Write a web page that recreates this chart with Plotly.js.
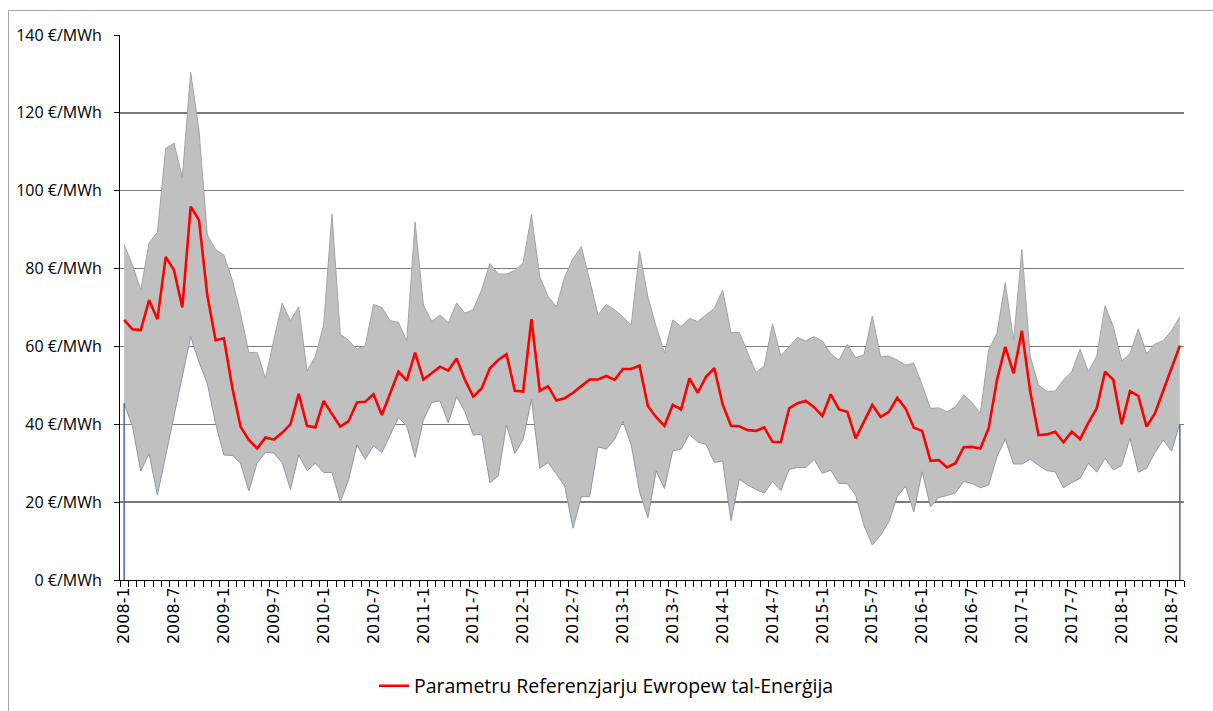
<!DOCTYPE html>
<html><head><meta charset="utf-8">
<script src="https://cdn.plot.ly/plotly-3.0.1.min.js"></script>
<style>
html,body{margin:0;padding:0;background:#fff;}
#chart{position:absolute;left:0;top:0;width:1213px;height:711px;}
#frame{position:absolute;left:8px;top:10px;width:1300px;height:800px;border-left:1px solid #a6a6a6;border-top:1px solid #a6a6a6;pointer-events:none;}
</style></head><body>
<div id="chart"></div><div id="frame"></div>
<script>
// Categories: months 2008-1 .. 2018-8
const years = [2008,2009,2010,2011,2012,2013,2014,2015,2016,2017,2018];
const months = [];
years.forEach(y => { for (let m = 1; m <= 12; m++) { if (y === 2018 && m > 8) break; months.push(y + '-' + m); } });

// Reference price (red line), €/MWh
const refPrice = [
66.8,64.4,64.2,71.9,67,83,79.6,70,95.9,92.5,73.2,61.6,
62.1,49.5,39.4,36,33.8,36.6,36.1,37.8,40,47.8,39.6,39.2,
46,42.8,39.4,40.8,45.6,45.8,47.7,42.4,48,53.5,51.2,58.4,
51.5,53.1,54.8,53.8,56.9,51.4,47.1,49.2,54.4,56.5,58,48.6,
48.4,67,48.6,49.8,46.1,46.7,48.1,49.8,51.5,51.5,52.4,51.4,
54.2,54.2,55.1,44.7,41.8,39.6,45,43.8,51.8,48.1,52.2,54.4,
45.1,39.6,39.5,38.5,38.3,39.2,35.5,35.4,44.1,45.4,46,44.4,
42.1,47.7,43.8,43.2,36.4,40.7,45,41.9,43.2,46.8,44.1,39.1,
38.3,30.6,30.8,28.9,30,34.1,34.2,33.8,39,51.4,59.9,53.1,
64,48.4,37.2,37.4,38.1,35.4,38.1,36.2,40.4,44.1,53.5,51.4,
40,48.5,47.3,39.4,42.8,48.6,54.6,60.2];

// Band maximum
const maxPrice = [
86.2,80.9,74.5,86.6,89.3,110.9,112.2,103.4,130.4,115.6,88.6,84.9,
83.5,77.1,68.5,58.4,58.5,51.8,61.6,71.1,66.6,70.2,53.7,57.4,
65.5,94,63.1,61.6,59.3,60.2,70.8,70,66.6,66.2,61.4,92,
70.6,66.4,68.1,66.1,71.2,68.5,69.5,74.5,81.3,78.6,78.6,79.5,
81.5,93.8,77.9,72.8,70.2,77.9,82.6,85.6,77.1,68.1,70.8,69.4,
67.6,65.5,84.5,72.8,65.1,58.4,66.8,65.1,67.2,66.4,68.1,69.8,
74.5,63.5,63.6,58.6,53.3,55,65.8,57.6,59.9,62.3,61.4,62.5,
61.4,58.1,56.5,60.5,57.1,57.8,67.8,57.4,57.5,56.5,55.2,55.7,
50.1,44.1,44.2,43.2,44.5,47.5,45.6,42.8,59.1,63.4,76.4,61.6,
84.9,57.4,50.1,48.5,48.5,51.4,53.5,59.3,53.5,57.5,70.4,65.1,
56.3,58.1,64.5,58.1,60.6,61.5,64,67.6];

// Band minimum
const minPrice = [
45.4,39.4,28,32.4,21.8,32,42.1,52.3,62.5,56,50.5,40.2,
32.1,32,30,22.9,30.1,32.8,32.6,30.2,23.3,32.1,28.1,30,
27.6,27.6,20.1,25.7,34.7,31,34.5,32.7,37.2,41.7,39.6,31.5,
41.1,45.6,46,40.4,47.1,43.2,37.2,37.5,25,26.7,39.8,32.5,
36.1,46.4,28.7,30.2,27.2,24.1,13.3,21.4,21.4,34.2,33.6,36.1,
40.8,34.7,22.7,16,28,23.5,33.2,33.6,37.4,35.5,34.8,30.2,
30.6,15.2,25.9,24.4,23.3,22.3,25.3,23,28.4,28.9,28.9,31,
27.4,28.2,24.8,24.8,21.8,14,9,11.5,15,21.4,24.1,17.5,
27.8,18.8,21.2,21.7,22.4,25.3,24.8,23.7,24.4,31.7,36.1,29.8,
29.8,31,29.5,28.1,27.8,23.7,25,26.1,30,27.7,31.3,28.3,
29.4,36.4,27.7,28.7,32.7,36,33.1,40.1];

const legendName = 'Parametru Referenzjarju Ewropew tal-Enerġija';
const unitSuffix = ' €/MWh';

const xIdx = months.map((m, i) => i);
const last = months.length - 1;
const tickIdx = xIdx.filter(i => i % 6 === 0);
const tickText = tickIdx.map(i => months[i]);

const traces = [
  {x: xIdx, y: minPrice, type: 'scatter', mode: 'lines',
   line: {color: '#8f99a6', width: 1}, showlegend: false, hoverinfo: 'skip'},
  {x: xIdx, y: maxPrice, type: 'scatter', mode: 'lines', fill: 'tonexty',
   fillcolor: '#c0c0c0', line: {color: '#a3a3a3', width: 1}, showlegend: false, hoverinfo: 'skip'},
  {x: [0, 0, null, last, last], y: [0, minPrice[0], null, 0, minPrice[last]], type: 'scatter', mode: 'lines',
   line: {color: '#4a6b9c', width: 1.5}, showlegend: false, hoverinfo: 'skip'},
  {x: xIdx, y: refPrice, type: 'scatter', mode: 'lines', name: legendName,
   line: {color: '#ff0000', width: 2.6}}
];

const layout = {
  width: 1213, height: 711,
  margin: {l: 120, r: 29, t: 35, b: 131, pad: 0},
  paper_bgcolor: '#ffffff', plot_bgcolor: '#ffffff',
  font: {family: '"DejaVu Sans", Verdana, sans-serif', size: 15, color: '#000000'},
  xaxis: {
    range: [-0.5, last + 0.5], tickmode: 'array', tickvals: tickIdx, ticktext: tickText,
    tickangle: -90, ticks: '', showgrid: false, zeroline: false,
    showline: true, linecolor: '#000000', linewidth: 1,
    tickfont: {family: '"DejaVu Sans", sans-serif', size: 16},
    minor: {tick0: 0.5, dtick: 1, ticks: 'outside', ticklen: 6, tickcolor: '#000000', tickwidth: 1, showgrid: false}
  },
  yaxis: {
    range: [0, 140], dtick: 20, tick0: 0, ticksuffix: unitSuffix,
    showgrid: true, gridcolor: '#7a7a7a', gridwidth: 1.3, zeroline: false,
    showline: true, linecolor: '#000000', linewidth: 1,
    ticks: 'outside', ticklen: 5, tickcolor: '#000000', ticklabelstandoff: 9,
    tickfont: {family: '"Open Sans", sans-serif', size: 16}
  },
  showlegend: true,
  legend: {orientation: 'h', xref: 'container', yref: 'container', x: 0.5, xanchor: 'center',
           y: 0.035, yanchor: 'middle', font: {family: '"Open Sans", sans-serif', size: 19.5}, bgcolor: 'rgba(0,0,0,0)'}
};

Plotly.newPlot('chart', traces, layout, {staticPlot: true, displayModeBar: false});
</script>
</body></html>
